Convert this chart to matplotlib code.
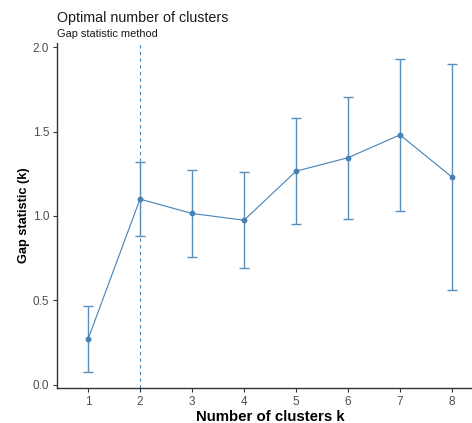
import matplotlib
matplotlib.use("Agg")
import matplotlib.pyplot as plt

plt.rcParams['font.family'] = ['Liberation Sans', 'DejaVu Sans']

clusters = [1, 2, 3, 4, 5, 6, 7, 8]
gap = [0.27, 1.10, 1.015, 0.975, 1.265, 1.345, 1.48, 1.23]
se = [0.195, 0.22, 0.255, 0.285, 0.315, 0.36, 0.45, 0.67]
optimal_k = 2
yticks = [0.0, 0.5, 1.0, 1.5, 2.0]

color = '#4682B4'
ecolor = '#5a8fbb'

W, H = 472, 423
fig = plt.figure(figsize=(W / 100, H / 100), dpi=100)
left_px, right_px = 56.8, 483.2
top_px, bottom_px = 43.3, 388.0
ax = fig.add_axes([left_px / W, (H - bottom_px) / H,
                   (right_px - left_px) / W, (bottom_px - top_px) / H])

ax.axvline(optimal_k, color=color, linestyle=(0, (3, 3)), linewidth=0.8)
ax.errorbar(clusters, gap, yerr=se, color=color, ecolor=ecolor, elinewidth=1.0,
            capsize=3.7, capthick=1.0, linewidth=0.8, marker='o', markersize=3.2)

ax.set_xlim(0.4, 8.6)
ax.set_ylim(-0.018, 2.022)
ax.set_xticks(clusters)
ax.set_xticklabels([str(c) for c in clusters])
ax.set_yticks(yticks)
ax.set_yticklabels([f"{v:.1f}" for v in yticks])

for s in ['top', 'right']:
    ax.spines[s].set_visible(False)
for s in ['left', 'bottom']:
    ax.spines[s].set_color('#333333')
    ax.spines[s].set_linewidth(1.0)
ax.tick_params(axis='both', direction='out', length=3, width=0.8, color='#333333',
               labelsize=8.5, labelcolor='#4D4D4D', pad=2.5)

ax.set_xlabel('Number of clusters k', fontsize=10.8, fontweight='bold', labelpad=2)
ax.set_ylabel('Gap statistic (k)', fontsize=9.2, fontweight='bold', labelpad=1.8)

fig.text(left_px / W, 1 - 22 / H, 'Optimal number of clusters', fontsize=10.3,
         ha='left', va='baseline', color='#1a1a1a')
fig.text(left_px / W, 1 - 37 / H, 'Gap statistic method', fontsize=7.9,
         ha='left', va='baseline', color='#1a1a1a')

fig.savefig('out.png', dpi=100)
